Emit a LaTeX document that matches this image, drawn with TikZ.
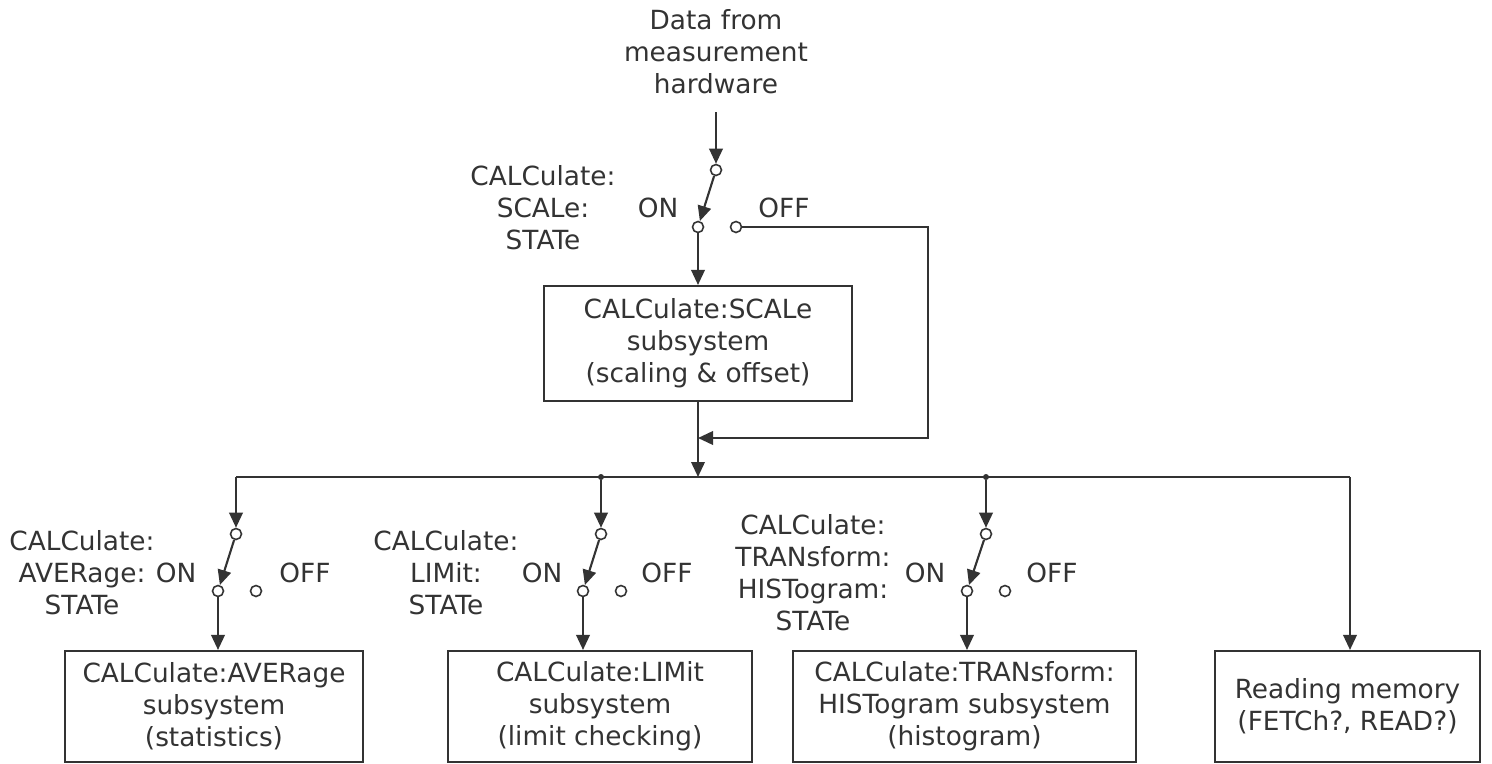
\documentclass[tikz,border=0pt]{standalone}
\usepackage{fontspec}
\setmainfont{DejaVu Sans}
\usetikzlibrary{arrows.meta}

\definecolor{ink}{HTML}{333333}
\tikzset{
  lbl/.style={font=\fontsize{15}{18.2}\selectfont, text=ink, align=center, inner sep=0pt},
  blk/.style={draw=ink, line width=1.2pt, lbl},
  term/.style={circle, draw=ink, fill=white, line width=0.9pt, minimum size=0.22cm, inner sep=0pt},
  jn/.style={circle, fill=ink, minimum size=0.12cm, inner sep=0pt},
  wire/.style={draw=ink, line width=1.2pt},
  flow/.style={wire, -{Triangle[length=0.3cm, width=0.27cm]}}
}

\begin{document}
\begin{tikzpicture}[x=0.02cm, y=-0.02cm]
  \useasboundingbox (0,0) rectangle (1492,764);

  % source and scale switch
  \node[lbl] (src) at (716,52) {Data from\\measurement\\hardware};
  \coordinate (srcout) at (716,112);
  \node[term] (s0i) at (716,170) {};
  \node[term] (s0on) at (698,227) {};
  \node[term] (s0off) at (736,227) {};
  \node[lbl] (lab0) at (543,208) {CALCulate:\\SCALe:\\STATe};
  \node[lbl] (on0) at (658,208) {ON};
  \node[lbl] (off0) at (784,208) {OFF};

  \node[blk, minimum width=6.16cm, minimum height=2.3cm] (scale) at (698,343.5)
    {CALCulate:SCALe\\subsystem\\(scaling \& offset)};

  \draw[flow] (srcout) -- (s0i);
  \draw[flow] (s0i) -- (s0on);
  \draw[flow] (s0on) -- (scale);

  \coordinate (ret) at (698,438);
  \coordinate (offturn) at (928,438);
  \coordinate (busmid) at (698,477);
  \draw[flow] (scale) -- (busmid);
  \draw[flow] (s0off) -| (offturn) -- (ret);

  % bus
  \coordinate (busL) at (236,477);
  \coordinate (busR) at (1350,477);
  \node[jn] (j2) at (601,477) {};
  \node[jn] (j3) at (986,477) {};
  \draw[wire] (busL) -- (busR);

  % switches
  \node[term] (s1i) at (236,534) {};
  \node[term] (s1on) at (218,591) {};
  \node[term] (s1off) at (256,591) {};
  \node[term] (s2i) at (601,534) {};
  \node[term] (s2on) at (583,591) {};
  \node[term] (s2off) at (621,591) {};
  \node[term] (s3i) at (986,534) {};
  \node[term] (s3on) at (967,591) {};
  \node[term] (s3off) at (1005,591) {};

  \node[lbl] (lab1) at (82,573) {CALCulate:\\AVERage:\\STATe};
  \node[lbl] (on1) at (176,573) {ON};
  \node[lbl] (off1) at (305,573) {OFF};
  \node[lbl] (lab2) at (446,573) {CALCulate:\\LIMit:\\STATe};
  \node[lbl] (on2) at (542,573) {ON};
  \node[lbl] (off2) at (667,573) {OFF};
  \node[lbl] (lab3) at (813,573) {CALCulate:\\TRANsform:\\HISTogram:\\STATe};
  \node[lbl] (on3) at (925,573) {ON};
  \node[lbl] (off3) at (1052,573) {OFF};

  % subsystems
  \node[blk, minimum width=5.96cm, minimum height=2.22cm] (avg) at (214,706.5)
    {CALCulate:AVERage\\subsystem\\(statistics)};
  \node[blk, minimum width=6.08cm, minimum height=2.22cm] (lim) at (600,706.5)
    {CALCulate:LIMit\\subsystem\\(limit checking)};
  \node[blk, minimum width=6.86cm, minimum height=2.22cm] (hist) at (964.5,706.5)
    {CALCulate:TRANsform:\\HISTogram subsystem\\(histogram)};
  \node[blk, minimum width=5.3cm, minimum height=2.22cm] (mem) at (1347.5,706.5)
    {Reading memory\\(FETCh?, READ?)};

  \draw[flow] (busL) -- (s1i);
  \draw[flow] (j2) -- (s2i);
  \draw[flow] (j3) -- (s3i);
  \draw[flow] (busR) -- (busR |- mem.north);
  \draw[flow] (s1i) -- (s1on);
  \draw[flow] (s2i) -- (s2on);
  \draw[flow] (s3i) -- (s3on);
  \draw[flow] (s1on) -- (s1on |- avg.north);
  \draw[flow] (s2on) -- (s2on |- lim.north);
  \draw[flow] (s3on) -- (s3on |- hist.north);
\end{tikzpicture}
\end{document}
